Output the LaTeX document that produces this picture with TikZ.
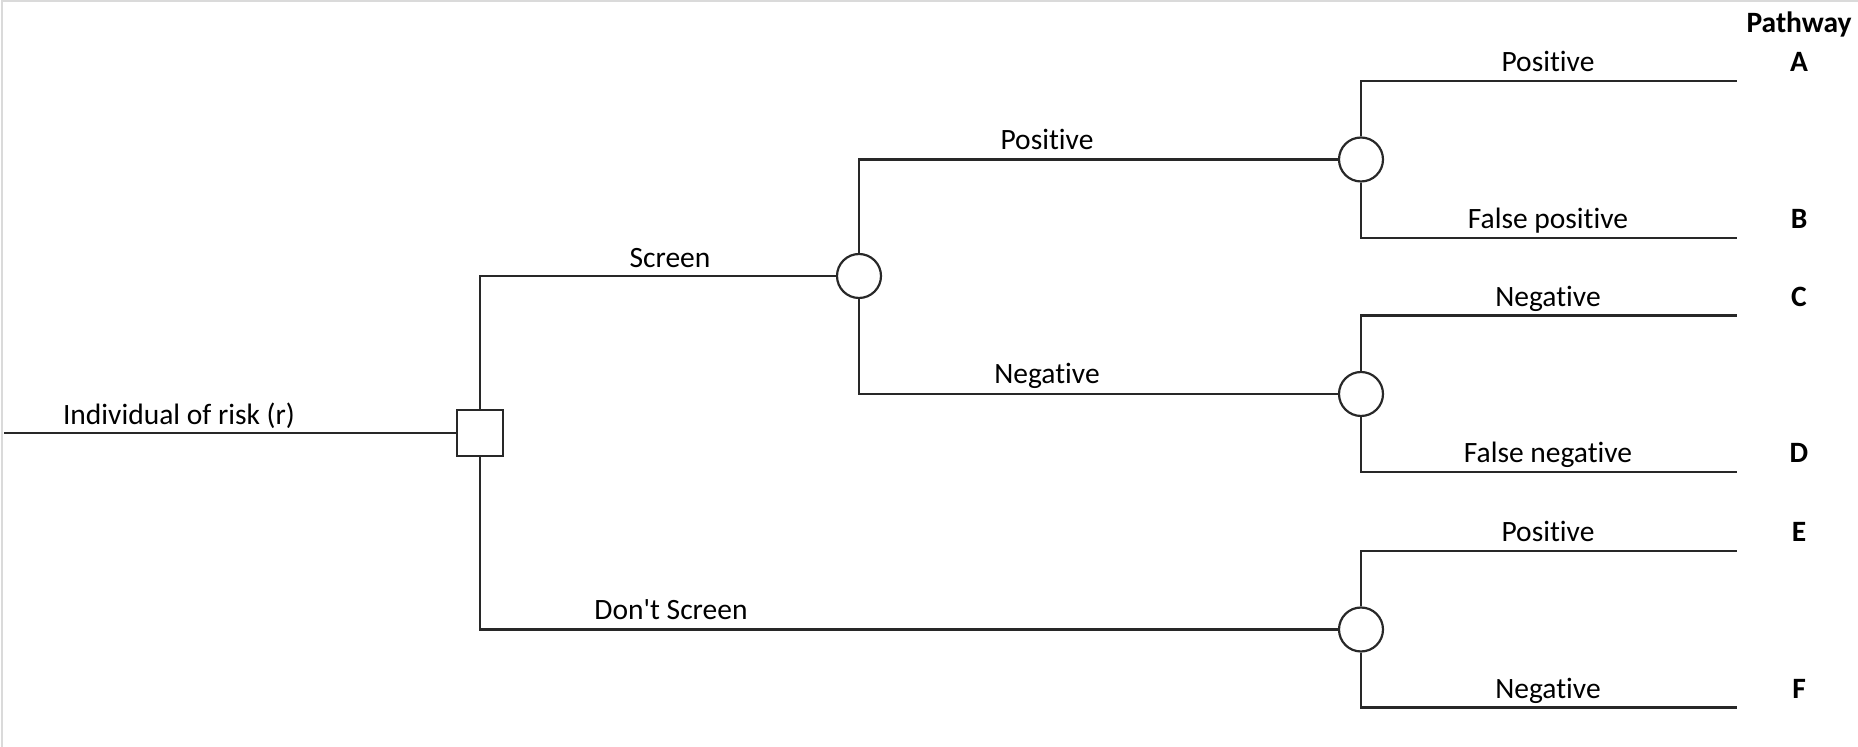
\documentclass[tikz,border=0pt]{standalone}
\usepackage{fontspec}
\setmainfont{Carlito}[Ligatures={NoCommon,TeXOff}]
\definecolor{framegray}{RGB}{218,218,218}
\definecolor{inkline}{RGB}{40,40,40}
\begin{document}
\begin{tikzpicture}[x=0.5pt,y=-0.5pt,
  branch/.style={line width=1.1pt, draw=inkline},
  decision/.style={draw=inkline, rectangle, line width=1.1pt, minimum size=23pt, inner sep=0pt, fill=white},
  chance/.style={draw=inkline, circle, line width=1.1pt, minimum size=22pt, inner sep=0pt, fill=white},
  lbl/.style={anchor=base, inner sep=0pt, font=\fontsize{14.75}{16}\selectfont},
  pathletter/.style={anchor=base, inner sep=0pt, font=\fontsize{14.75}{16}\selectfont\bfseries}]
  \useasboundingbox (0,0) rectangle (1858,747);
  % light frame along the top and left edges
  \draw[framegray, line width=1pt] (1.5,747) -- (1.5,1.5) -- (1858,1.5);

  % decision and chance nodes
  \node[decision] (sq) at (480,433) {};
  \node[chance] (c1) at (859,276) {};
  \node[chance] (c2) at (1361,159.5) {};
  \node[chance] (c3) at (1361,394) {};
  \node[chance] (c4) at (1361,629.5) {};

  % start and end points of the tree
  \coordinate (start) at (4,433);
  \coordinate (eA) at (1737,81);
  \coordinate (eB) at (1737,238);
  \coordinate (eC) at (1737,315.5);
  \coordinate (eD) at (1737,472);
  \coordinate (eE) at (1737,551);
  \coordinate (eF) at (1737,707.5);

  % branches
  \draw[branch] (start) -- (sq.west);
  \draw[branch] (sq.north) |- (c1.west);
  \draw[branch] (sq.south) |- (c4.west);
  \draw[branch] (c1.north) |- (c2.west);
  \draw[branch] (c1.south) |- (c3.west);
  \draw[branch] (c2.north) |- (eA);
  \draw[branch] (c2.south) |- (eB);
  \draw[branch] (c3.north) |- (eC);
  \draw[branch] (c3.south) |- (eD);
  \draw[branch] (c4.north) |- (eE);
  \draw[branch] (c4.south) |- (eF);

  % branch labels
  \node[lbl] (lroot) at (179,425) {Individual of risk (r)};
  \node[lbl] (lscreen) at (670,268) {Screen};
  \node[lbl] (lnoscreen) at (671,620) {Don't Screen};
  \node[lbl] (lpos) at (1047,150) {Positive};
  \node[lbl] (lneg) at (1047,384) {Negative};
  \node[lbl] (lA) at (1548,72) {Positive};
  \node[lbl] (lB) at (1548,229) {False positive};
  \node[lbl] (lC) at (1548,306.5) {Negative};
  \node[lbl] (lD) at (1548,463) {False negative};
  \node[lbl] (lE) at (1548,542) {Positive};
  \node[lbl] (lF) at (1548,698.5) {Negative};

  % pathway column
  \node[pathletter] (phead) at (1799,33) {Pathway};
  \node[pathletter] (pA) at (1799,72) {A};
  \node[pathletter] (pB) at (1799,229) {B};
  \node[pathletter] (pC) at (1799,306.5) {C};
  \node[pathletter] (pD) at (1799,463) {D};
  \node[pathletter] (pE) at (1799,542) {E};
  \node[pathletter] (pF) at (1799,698.5) {F};
\end{tikzpicture}
\end{document}
